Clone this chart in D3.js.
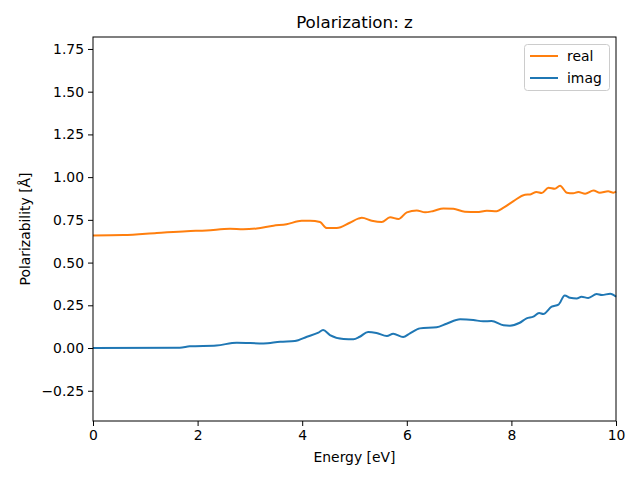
<!DOCTYPE html>
<html><head><meta charset="utf-8">
<script src="https://cdn.jsdelivr.net/npm/d3@7"></script>
<style>body{margin:0;background:#fff}svg{display:block}text{font-family:"DejaVu Sans",sans-serif}</style>
</head><body>
<script>
const energyReal = [0,0.58,1.22,1.79,2.17,2.62,2.87,3.13,3.45,3.70,3.99,4.15,4.34,4.47,4.66,4.91,5.07,5.14,5.33,5.52,5.68,5.84,6.00,6.19,6.35,6.51,6.70,6.89,7.11,7.34,7.53,7.72,7.85,8.04,8.26,8.36,8.48,8.58,8.71,8.83,8.93,9.06,9.18,9.28,9.41,9.57,9.69,9.85,9.95,10];
const realVals = [0.659,0.661,0.673,0.684,0.688,0.698,0.695,0.700,0.716,0.724,0.745,0.745,0.737,0.702,0.702,0.733,0.757,0.762,0.745,0.737,0.765,0.755,0.794,0.805,0.794,0.802,0.817,0.815,0.798,0.796,0.803,0.801,0.821,0.860,0.897,0.899,0.913,0.907,0.938,0.932,0.950,0.909,0.905,0.913,0.903,0.922,0.909,0.917,0.909,0.915];
const energyImag = [0,1.66,1.85,2.36,2.75,3.26,3.58,3.86,4.09,4.31,4.40,4.53,4.79,4.98,5.10,5.26,5.42,5.62,5.74,5.93,6.06,6.25,6.57,6.76,7.02,7.27,7.46,7.62,7.85,7.97,8.16,8.29,8.42,8.53,8.61,8.77,8.90,9.02,9.12,9.25,9.34,9.47,9.63,9.73,9.89,10];
const imagVals = [0,0.002,0.010,0.015,0.031,0.027,0.037,0.041,0.066,0.090,0.105,0.076,0.053,0.051,0.066,0.094,0.088,0.070,0.084,0.064,0.086,0.115,0.121,0.142,0.168,0.164,0.156,0.158,0.133,0.131,0.148,0.174,0.184,0.205,0.199,0.242,0.254,0.308,0.294,0.290,0.300,0.293,0.316,0.310,0.318,0.300];
const xTicks = [0,2,4,6,8,10];
const yTicks = [-0.25,0,0.25,0.5,0.75,1.0,1.25,1.5,1.75];
const seriesNames = ["real","imag"];
const seriesColors = ["#ff7f0e","#1f77b4"];

const W=640,H=480,L=93,R=616,T=37,B=421;
const svg=d3.select("body").append("svg").attr("width",W).attr("height",H);
const x=d3.scaleLinear().domain([0,10]).range([L,R]);
const y=d3.scaleLinear().domain([-0.427,1.82]).range([B,T]);
const fmt=v=>d3.format(".2f")(v).replace("-","\u2212");

const line=d3.line().x(d=>x(d[0])).y(d=>y(d[1])).curve(d3.curveMonotoneX);
const realData=energyReal.map((e,i)=>[e,realVals[i]]);
const imagData=energyImag.map((e,i)=>[e,imagVals[i]]);
const g=svg.append("g");
g.append("path").datum(realData).attr("d",line).attr("fill","none").attr("stroke",seriesColors[0]).attr("stroke-width",2);
g.append("path").datum(imagData).attr("d",line).attr("fill","none").attr("stroke",seriesColors[1]).attr("stroke-width",2);

const xa=svg.append("g").attr("transform",`translate(0,${B})`).call(d3.axisBottom(x).tickValues(xTicks).tickSize(5).tickPadding(4).tickFormat(d3.format("d")));
const ya=svg.append("g").attr("transform",`translate(${L},0)`).call(d3.axisLeft(y).tickValues(yTicks).tickSize(5).tickPadding(4).tickFormat(fmt));
[xa,ya].forEach(a=>{a.select(".domain").remove();a.selectAll("text").attr("font-size",13.9).attr("fill","#000").attr("font-family","DejaVu Sans");a.selectAll("line").attr("stroke","#000").attr("stroke-width",1);});
svg.append("rect").attr("x",L).attr("y",T).attr("width",R-L).attr("height",B-T).attr("fill","none").attr("stroke","#000").attr("stroke-width",1);

svg.append("text").attr("x",(L+R)/2).attr("y",28).attr("text-anchor","middle").attr("font-size",16.7).text("Polarization: z");
svg.append("text").attr("x",(L+R)/2).attr("y",462).attr("text-anchor","middle").attr("font-size",13.9).text("Energy [eV]");
svg.append("text").attr("transform",`translate(30,${(T+B)/2}) rotate(-90)`).attr("text-anchor","middle").attr("font-size",13.9).text("Polarizability [Å]");

const lg=svg.append("g");
lg.append("rect").attr("x",524.5).attr("y",44.5).attr("width",85).attr("height",46).attr("rx",3).attr("fill","#fff").attr("fill-opacity",0.8).attr("stroke","#ccc");
seriesNames.forEach((n,i)=>{
  const yy=56+i*22;
  lg.append("line").attr("x1",530).attr("x2",558).attr("y1",yy).attr("y2",yy).attr("stroke",seriesColors[i]).attr("stroke-width",2);
  lg.append("text").attr("x",567).attr("y",yy+5).attr("font-size",13.9).text(n);
});
</script>
</body></html>
